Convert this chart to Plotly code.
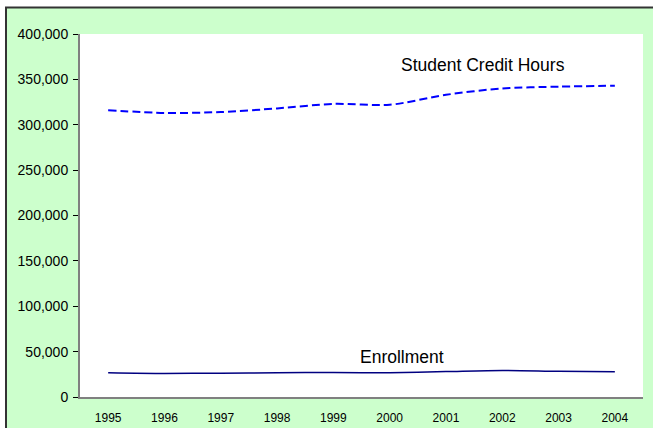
import plotly.graph_objects as go

years = ["1995", "1996", "1997", "1998", "1999", "2000", "2001", "2002", "2003", "2004"]
credit_hours = [316000, 313000, 314000, 318000, 323000, 322000, 333000, 340000, 342000, 343000]
enrollment = [26800, 26000, 26300, 26700, 27000, 26800, 28000, 29200, 28300, 27800]
y_ticks = [0, 50000, 100000, 150000, 200000, 250000, 300000, 350000, 400000]
y_tick_text = ["0", "50,000", "100,000", "150,000", "200,000", "250,000", "300,000", "350,000", "400,000"]

W, H = 653, 428
L, R, T, B = 80, 10, 34, 31
pw, ph = W - L - R, H - T - B

def px_x(p):
    return (p - L) / pw

def px_y(p):
    return (H - B - p) / ph

fig = go.Figure()
fig.add_trace(go.Scatter(
    x=years, y=credit_hours, mode="lines",
    line=dict(color="#0000FF", width=2, dash="8px,4px", shape="spline", smoothing=0.8),
    showlegend=False, hoverinfo="skip"))
fig.add_trace(go.Scatter(
    x=years, y=enrollment, mode="lines",
    line=dict(color="#000080", width=1.5, shape="spline", smoothing=0.8),
    showlegend=False, hoverinfo="skip"))

fig.add_annotation(x=6.66, y=366000, xref="x", yref="y", text="Student Credit Hours",
                   showarrow=False, font=dict(family="Liberation Sans, Arial", size=17.5, color="#000"),
                   xanchor="center", yanchor="middle")
fig.add_annotation(x=5.22, y=44500, xref="x", yref="y", text="Enrollment",
                   showarrow=False, font=dict(family="Liberation Sans, Arial", size=17.5, color="#000"),
                   xanchor="center", yanchor="middle")

# white strip outside the frame and the frame lines
fig.add_shape(type="rect", xref="paper", yref="paper", x0=px_x(0), x1=px_x(W), y0=px_y(7), y1=px_y(0),
              fillcolor="white", line=dict(width=0), layer="below")
fig.add_shape(type="rect", xref="paper", yref="paper", x0=px_x(0), x1=px_x(5), y0=px_y(H), y1=px_y(0),
              fillcolor="white", line=dict(width=0), layer="below")
fig.add_shape(type="line", xref="paper", yref="paper", x0=px_x(5), x1=px_x(W + 5), y0=px_y(7.5), y1=px_y(7.5),
              line=dict(color="#333333", width=2), layer="above")
fig.add_shape(type="line", xref="paper", yref="paper", x0=px_x(6), x1=px_x(6), y0=px_y(7), y1=px_y(H + 5),
              line=dict(color="#333333", width=2), layer="above")

fig.update_layout(
    width=W, height=H,
    margin=dict(l=L, r=R, t=T, b=B, pad=0, autoexpand=False),
    paper_bgcolor="#CCFFCC", plot_bgcolor="white",
    font=dict(family="Liberation Sans, Arial", color="#000"),
    xaxis=dict(type="category", range=[-0.5, 9.5], showgrid=False, zeroline=False,
               showline=True, linecolor="#808080", linewidth=2, ticks="",
               tickfont=dict(size=12), ticklabelstandoff=9, automargin=False),
    yaxis=dict(range=[0, 400000], tickvals=y_ticks, ticktext=y_tick_text, showgrid=False,
               zeroline=False, showline=True, linecolor="#808080", linewidth=2,
               ticks="outside", ticklen=5, tickcolor="#000", tickwidth=1,
               tickfont=dict(size=14), ticklabelstandoff=2, automargin=False),
)

fig.write_html("out.html", config={"displayModeBar": False},
               post_script="document.body.style.margin='0';document.body.style.overflow='hidden';")
